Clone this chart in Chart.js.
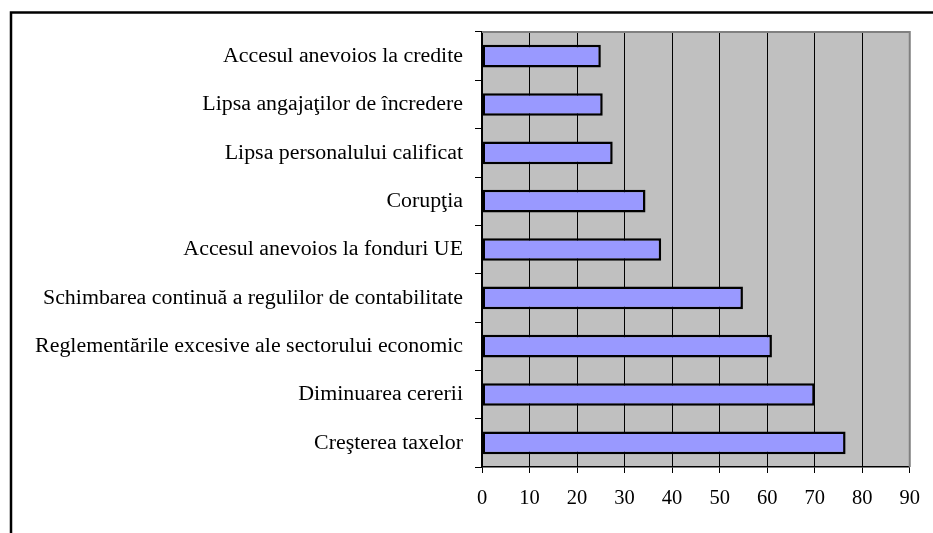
<!DOCTYPE html>
<html>
<head>
<meta charset="utf-8">
<script src="https://cdn.jsdelivr.net/npm/chart.js@4"></script>
<style>
  body { margin: 0; background: #fff; }
  #wrap { position: relative; width: 933px; height: 533px; }
</style>
</head>
<body>
<div id="wrap"><canvas id="chartObstacole"></canvas></div>
<script>
//* DATOS
const Categorii = [
    'Accesul anevoios la credite',
    'Lipsa angajaţilor de încredere',
    'Lipsa personalului calificat',
    'Corupţia',
    'Accesul anevoios la fonduri UE',
    'Schimbarea continuă a regulilor de contabilitate',
    'Reglementările excesive ale sectorului economic',
    'Diminuarea cererii',
    'Creşterea taxelor'
];
const Valori = [25, 25.4, 27.5, 34.4, 37.7, 54.9, 61, 70, 76.5];
const Scala = { min: 0, max: 90, pas: 10 };

const fontEtichete = { family: 'Liberation Serif', size: 21.9 };
const fontValori = { family: 'Liberation Serif', size: 20.5 };

// fundal gri + chenar zona grafic + cadru exterior
const fundalPlot = {
    id: 'fundalPlot',
    beforeDraw(chart) {
        const { ctx, chartArea: a } = chart;
        ctx.save();
        ctx.fillStyle = '#C0C0C0';
        ctx.fillRect(a.left, a.top, a.right - a.left, a.bottom - a.top);
        ctx.restore();
    },
    afterDraw(chart) {
        const { ctx, chartArea: a } = chart;
        ctx.save();
        ctx.strokeStyle = '#808080';
        ctx.lineWidth = 2;
        ctx.beginPath();
        ctx.moveTo(a.left, a.top);
        ctx.lineTo(a.right, a.top);
        ctx.lineTo(a.right, a.bottom);
        ctx.stroke();
        // cadru exterior
        ctx.strokeStyle = '#000';
        ctx.lineWidth = 2.5;
        ctx.beginPath();
        ctx.moveTo(11, 540);
        ctx.lineTo(11, 12.5);
        ctx.lineTo(940, 12.5);
        ctx.stroke();
        ctx.restore();
    }
};

new Chart(document.getElementById('chartObstacole'), {
    type: 'bar',
    data: {
        labels: Categorii,
        datasets: [{
            data: Valori,
            backgroundColor: '#9999FF',
            borderColor: '#000',
            borderWidth: 2.5,
            borderSkipped: false,
            barPercentage: 0.47,
            categoryPercentage: 1
        }]
    },
    options: {
        indexAxis: 'y',
        responsive: true,
        maintainAspectRatio: false,
        animation: false,
        layout: { padding: { top: 32, right: 23, left: 0, bottom: 0 } },
        plugins: {
            legend: { display: false },
            tooltip: { enabled: false }
        },
        scales: {
            x: {
                min: Scala.min,
                max: Scala.max,
                afterFit: (s) => { s.height = 66; },
                ticks: { stepSize: Scala.pas, color: '#000', font: fontValori, padding: 13, maxRotation: 0 },
                grid: { color: '#000', lineWidth: 1, tickLength: 6 },
                border: { color: '#000', width: 1.5 }
            },
            y: {
                afterFit: (s) => { s.width = 482; },
                ticks: { color: '#000', font: fontEtichete, padding: 12 },
                grid: { offset: true, drawOnChartArea: false, color: '#000', tickLength: 7 },
                border: { color: '#000', width: 1.5 }
            }
        }
    },
    plugins: [fundalPlot]
});
</script>
</body>
</html>
